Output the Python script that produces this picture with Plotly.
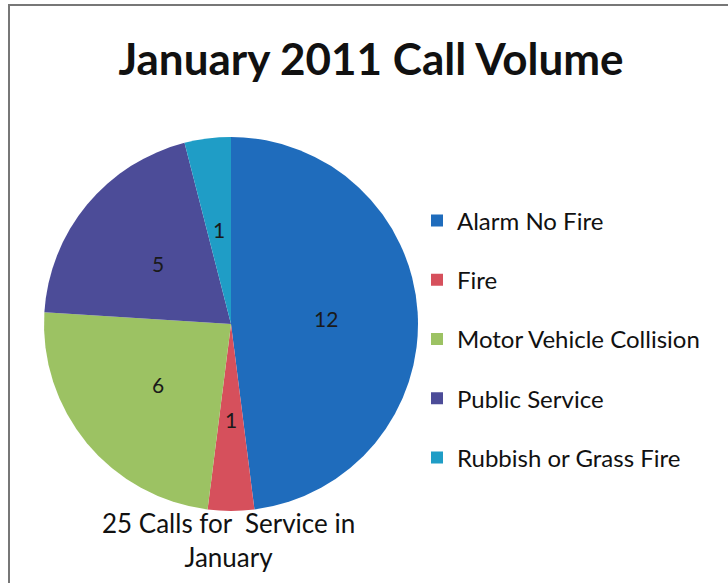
import math
import plotly.graph_objects as go

categories = ["Alarm No Fire", "Fire", "Motor Vehicle Collision", "Public Service", "Rubbish or Grass Fire"]
calls = [12, 1, 6, 5, 1]
colors = ["#1f6cbc", "#d6505c", "#9cc263", "#4c4c98", "#1f9dc6"]
title_text = "January 2011 Call Volume"
note_text = "25 Calls for  Service in<br>January"

W, H = 728, 583
FONT = "Lato"

# pie geometry (pixels)
CX, CY, R = 231, 324, 187
LABEL_FRAC = 0.51

fig = go.Figure()
fig.add_trace(go.Pie(
    labels=categories, values=calls, sort=False, direction="clockwise", rotation=0,
    marker=dict(colors=colors, line=dict(width=0)),
    textinfo="none",
    domain=dict(x=[(CX - R)/W, (CX + R)/W], y=[(H - CY - R)/H, (H - CY + R)/H]),
    showlegend=False, hoverinfo="label+value",
))

# legend entries via dummy traces so item spacing can match
for cat, col in zip(categories, colors):
    fig.add_trace(go.Scatter(
        x=[None], y=[None], mode="markers", name=cat, legendgroup=cat,
        marker=dict(symbol="square", size=11, color=col),
        showlegend=True,
    ))

# value labels at the slice mid-angles (derived from the data)
annotations = []
total = sum(calls)
cum = 0
for v in calls:
    mid = (cum + v / 2) / total * 2 * math.pi
    cum += v
    px = CX + LABEL_FRAC * R * math.sin(mid)
    py = CY - LABEL_FRAC * R * math.cos(mid)
    annotations.append(dict(text=str(v), x=px/W, y=1 - py/H, xref="paper", yref="paper",
                            xanchor="center", yanchor="middle", showarrow=False,
                            font=dict(family=FONT, size=21, color="#1a1a1a")))

annotations.append(dict(text=note_text, x=228/W, y=1 - 540/H, xref="paper", yref="paper",
                        xanchor="center", yanchor="middle", showarrow=False,
                        font=dict(family=FONT, size=26, color="#111")))

fig.update_layout(
    width=W, height=H,
    margin=dict(l=0, r=0, t=0, b=0),
    paper_bgcolor="white", plot_bgcolor="white",
    xaxis=dict(visible=False), yaxis=dict(visible=False),
    title=dict(text="<b>" + title_text + "</b>", x=371/W, xanchor="center",
               y=1 - 60/H, yanchor="middle",
               font=dict(family=FONT, size=44, color="#111")),
    legend=dict(x=417/W, xanchor="left", y=1 - 339/H, yanchor="middle",
                tracegroupgap=25, itemsizing="constant",
                font=dict(family=FONT, size=24, color="#111"),
                bgcolor="rgba(0,0,0,0)"),
    annotations=annotations,
    shapes=[
        dict(type="line", xref="paper", yref="paper", x0=8/W, x1=1, y0=1 - 5/H, y1=1 - 5/H,
             line=dict(color="#777", width=2)),
        dict(type="line", xref="paper", yref="paper", x0=9/W, x1=9/W, y0=0, y1=1 - 5/H,
             line=dict(color="#777", width=2)),
    ],
)

fig.write_html("out.html")
